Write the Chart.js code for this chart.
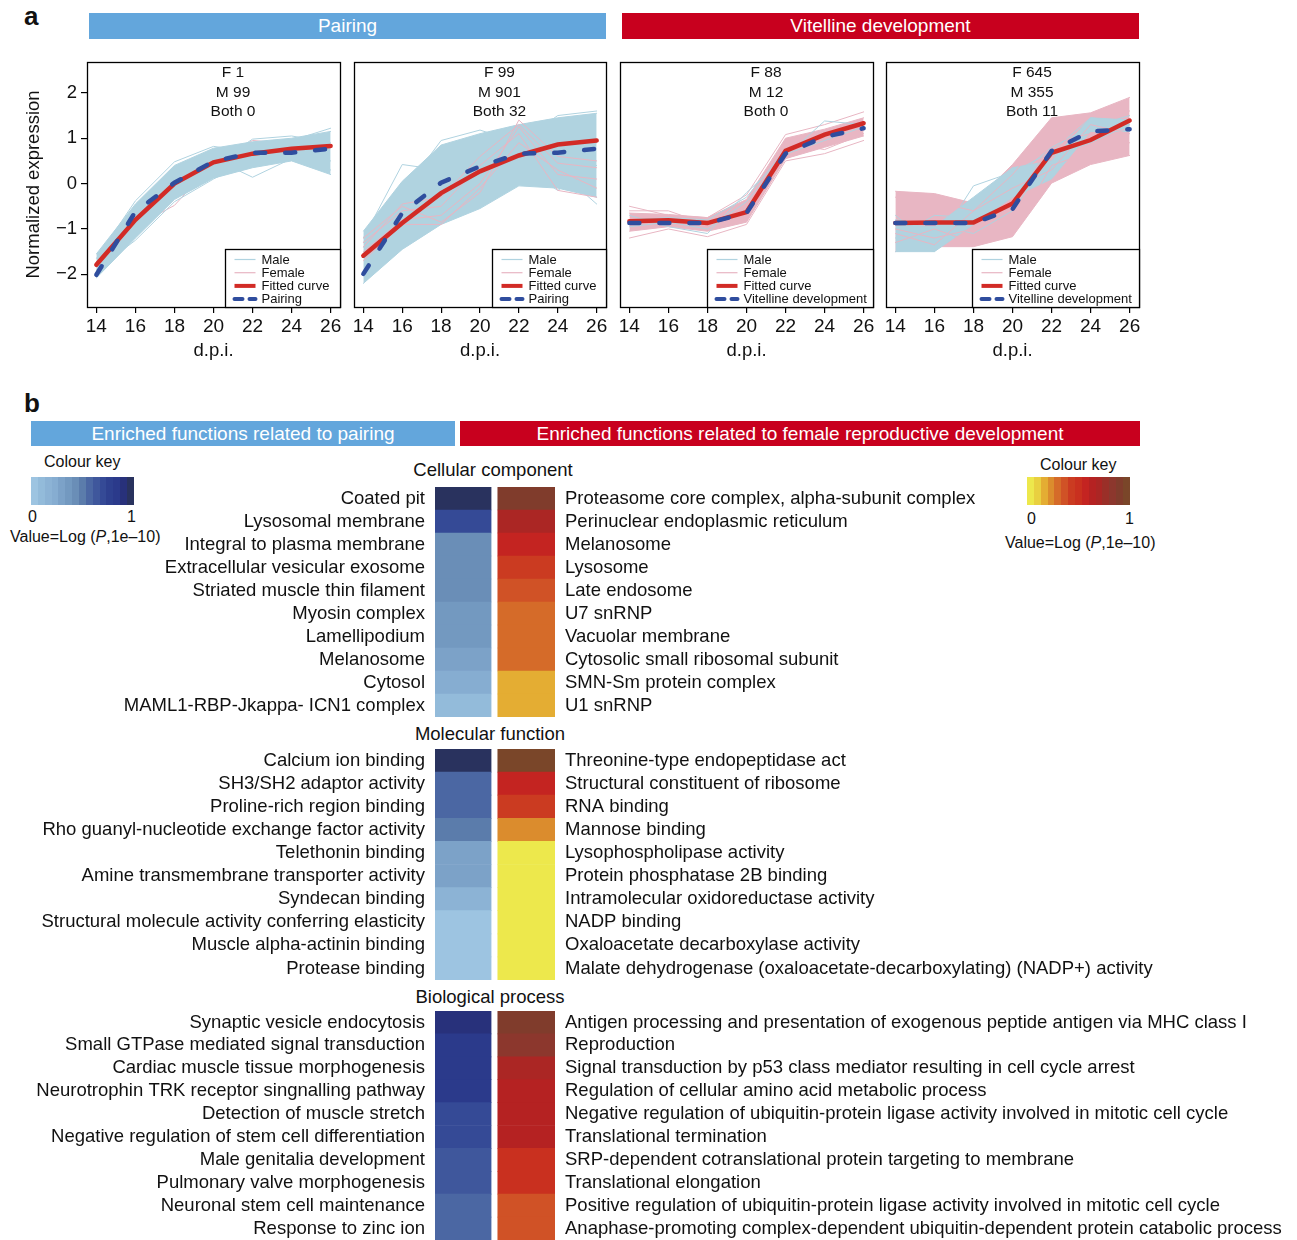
<!DOCTYPE html>
<html>
<head>
<meta charset="utf-8">
<script src="https://cdn.jsdelivr.net/npm/chart.js@4.4.0/dist/chart.umd.min.js"></script>
<style>
  body { margin: 0; background: #fff; font-family: "Liberation Sans", Arial, sans-serif; color: #111; }
  #page { position: relative; width: 1297px; height: 1240px; overflow: hidden; }
  #page canvas { position: absolute; }
  .t { position: absolute; white-space: nowrap; }
  .bar { position: absolute; color: #fff; text-align: center; font-size: 19px; line-height: 26px; height: 26px; }
  .key { position: absolute; display: flex; height: 28px; }
  .key div { flex: 1; }
</style>
</head>
<body>
<div id="page">
  <div class="t" style="left:24px;top:3px;font-size:26px;font-weight:bold;line-height:26px;">a</div>
  <div class="bar" style="left:89px;top:13px;width:517px;background:#63a6dc;">Pairing</div>
  <div class="bar" style="left:622px;top:13px;width:517px;background:#c8001e;">Vitelline development</div>

  <canvas id="p1" width="347" height="320" style="left:7px;top:50px;"></canvas>
  <canvas id="p2" width="346" height="320" style="left:274px;top:50px;"></canvas>
  <canvas id="p3" width="347" height="320" style="left:540px;top:50px;"></canvas>
  <canvas id="p4" width="347" height="320" style="left:806px;top:50px;"></canvas>

  <div class="t" style="left:24px;top:390px;font-size:26px;font-weight:bold;line-height:26px;">b</div>
  <div class="bar" style="left:31px;top:421px;width:424px;height:25px;line-height:25px;background:#63a6dc;">Enriched functions related to pairing</div>
  <div class="bar" style="left:460px;top:421px;width:680px;height:25px;line-height:25px;background:#c8001e;">Enriched functions related to female reproductive development</div>

  <div class="t" style="left:44px;top:454px;font-size:16px;line-height:16px;">Colour key</div>
  <div class="key" id="keyBlue" style="left:31px;top:477px;width:103px;"></div>
  <div class="t" style="left:28px;top:509px;font-size:16px;line-height:16px;">0</div>
  <div class="t" style="left:127px;top:509px;font-size:16px;line-height:16px;">1</div>
  <div class="t" style="left:10px;top:529px;font-size:16px;line-height:16px;">Value=Log (<i>P</i>,1e–10)</div>

  <div class="t" style="left:1040px;top:457px;font-size:16px;line-height:16px;">Colour key</div>
  <div class="key" id="keyRed" style="left:1027px;top:477px;width:103px;"></div>
  <div class="t" style="left:1027px;top:511px;font-size:16px;line-height:16px;">0</div>
  <div class="t" style="left:1125px;top:511px;font-size:16px;line-height:16px;">1</div>
  <div class="t" style="left:1005px;top:535px;font-size:16px;line-height:16px;">Value=Log (<i>P</i>,1e–10)</div>

  <div class="t" style="left:343px;width:300px;text-align:center;top:461px;font-size:18.5px;line-height:18px;">Cellular component</div>
  <div class="t" style="left:340px;width:300px;text-align:center;top:725px;font-size:18.5px;line-height:18px;">Molecular function</div>
  <div class="t" style="left:340px;width:300px;text-align:center;top:988px;font-size:18.5px;line-height:18px;">Biological process</div>

  <canvas id="hCC" width="1297" height="230" style="left:0;top:487px;"></canvas>
  <canvas id="hMF" width="1297" height="231" style="left:0;top:749px;"></canvas>
  <canvas id="hBP" width="1297" height="229" style="left:0;top:1011px;"></canvas>
</div>

<script>
// ---------- DATA: panel a (normalized expression vs d.p.i.) ----------
const dpi = [14, 16, 18, 20, 22, 24, 26];
const xTickVals = [14, 16, 18, 20, 22, 24, 26];
const yTickVals = [-2, -1, 0, 1, 2];

// Panel 1: pairing, F 1 / M 99 / Both 0
const p1Counts = ['F 1', 'M 99', 'Both 0'];
const p1MaleUpper = [-1.55, -0.45, 0.40, 0.78, 0.92, 1.00, 1.15];
const p1MaleLower = [-2.08, -1.20, -0.35, 0.12, 0.35, 0.50, 0.20];
const p1MaleLines = [
  [-1.65, -0.38, 0.48, 0.82, 0.70, 0.95, 1.22],
  [-1.90, -1.25, -0.40, 0.10, 0.55, 0.60, 0.30],
  [-1.80, -0.90, -0.10, 0.55, 0.14, 0.55, 0.50],
  [-2.05, -0.70, 0.10, 0.40, 0.98, 1.05, 0.90]
];
const p1FemaleLines = [[-1.72, -0.95, -0.48, 0.45, 0.95, 0.88, 0.80]];
const p1Fitted = [-1.79, -0.80, 0.00, 0.47, 0.66, 0.77, 0.83];
const p1Pattern = [-2.01, -0.62, 0.02, 0.49, 0.68, 0.68, 0.77];

// Panel 2: pairing, F 99 / M 901 / Both 32
const p2Counts = ['F 99', 'M 901', 'Both 32'];
const p2MaleUpper = [-1.05, 0.05, 0.85, 1.10, 1.30, 1.45, 1.55];
const p2MaleLower = [-2.20, -1.45, -0.90, -0.55, -0.05, -0.10, -0.30];
const p2MaleLines = [
  [-1.20, 0.42, 0.30, 0.90, 1.00, 0.80, 0.90],
  [-1.30, -0.20, 0.95, 1.18, 0.90, 1.50, 1.60],
  [-1.60, -0.80, -0.30, 0.10, 0.50, 0.30, -0.45],
  [-1.40, -0.60, -0.20, 0.30, 0.40, -0.15, 0.40]
];
const p2FemaleLines = [
  [-1.20, -0.50, -0.85, -0.20, 1.40, 0.60, 0.50],
  [-1.50, -0.80, -0.70, 0.00, 1.25, 0.20, 0.10],
  [-1.30, -0.60, -0.50, 0.40, 1.10, -0.15, -0.30],
  [-1.70, -0.90, -0.90, -0.10, 0.90, 0.30, -0.10],
  [-1.40, -0.45, -0.30, 0.60, 1.30, 0.45, 0.35]
];
const p2Fitted = [-1.59, -0.87, -0.21, 0.27, 0.62, 0.86, 0.95];
const p2Pattern = [-1.99, -0.65, 0.02, 0.38, 0.66, 0.68, 0.77];

// Panel 3: vitelline development, F 88 / M 12 / Both 0
const p3Counts = ['F 88', 'M 12', 'Both 0'];
const p3FemaleUpper = [-0.65, -0.68, -0.75, -0.35, 1.00, 1.20, 1.45];
const p3FemaleLower = [-1.05, -0.95, -1.05, -0.85, 0.55, 0.80, 1.05];
const p3FemaleLines = [
  [-0.50, -0.70, -0.75, -0.25, 1.08, 1.30, 1.58],
  [-1.20, -1.00, -1.17, -0.90, 0.50, 0.66, 0.95],
  [-0.60, -0.60, -0.90, -0.60, 0.90, 0.75, 1.10]
];
const p3MaleLines = [
  [-0.70, -0.95, -1.10, -0.20, 0.60, 1.38, 1.30],
  [-0.95, -0.85, -1.00, -0.40, 0.65, 0.95, 1.25],
  [-0.80, -0.75, -0.80, -0.30, 0.75, 1.10, 1.35]
];
const p3Fitted = [-0.83, -0.81, -0.87, -0.63, 0.72, 1.08, 1.33];
const p3Pattern = [-0.87, -0.87, -0.87, -0.65, 0.66, 1.03, 1.22];

// Panel 4: vitelline development, F 645 / M 355 / Both 11
const p4Counts = ['F 645', 'M 355', 'Both 11'];
const p4FemaleUpper = [-0.17, -0.22, -0.43, 0.42, 1.45, 1.56, 1.90];
const p4FemaleLower = [-1.50, -1.39, -1.39, -1.17, 0.01, 0.42, 0.62];
const p4MaleUpper = [-0.90, -0.95, -0.30, 0.35, 0.50, 1.45, 1.40];
const p4MaleLower = [-1.50, -1.50, -0.90, -0.30, 0.10, 1.15, 1.15];
const p4FemaleLines = [
  [-0.30, -0.40, -0.60, 0.20, 1.20, 1.50, 1.60],
  [-1.00, -1.20, -1.00, -0.50, 0.90, 1.10, 1.20],
  [-1.30, -1.00, -1.30, -1.10, 0.40, 0.70, 0.90],
  [-1.10, -1.35, -0.60, -0.10, 0.30, 1.30, 1.10]
];
const p4MaleLines = [
  [-0.70, -1.40, -0.05, 0.25, 0.70, 1.45, 1.35],
  [-1.30, -1.50, -0.40, -0.20, 0.35, 1.30, 1.20],
  [-0.80, -0.90, -1.10, -0.60, 0.60, 0.90, 1.30],
  [-1.20, -0.70, -0.75, 0.10, 0.80, 1.25, 1.50]
];
const p4Fitted = [-0.87, -0.86, -0.86, -0.44, 0.68, 0.96, 1.39];
const p4Pattern = [-0.87, -0.87, -0.87, -0.56, 0.72, 1.15, 1.20];

// ---------- DATA: panel b (enrichment heatmap) ----------
const bluePalette = ['#9dc4e1', '#93bbda', '#8cb3d5', '#86add1', '#7ca2c8', '#7399c0', '#6a8eb7', '#5b7cab',
                     '#4b67a3', '#3f579c', '#354a96', '#2e408f', '#2b3a8b', '#28317b', '#29325e'];
const redPalette = ['#ede84c', '#e9d040', '#e4ad33', '#db8c2d', '#d56b29', '#d05226', '#cb3b21', '#c9301f',
                    '#c42421', '#b52222', '#ab2624', '#9a2f28', '#8c372d', '#803c2c', '#7a4629'];

const ccPairLabels = ['Coated pit', 'Lysosomal membrane', 'Integral to plasma membrane', 'Extracellular vesicular exosome',
  'Striated muscle thin filament', 'Myosin complex', 'Lamellipodium', 'Melanosome', 'Cytosol', 'MAML1-RBP-Jkappa- ICN1 complex'];
const ccFemaleLabels = ['Proteasome core complex, alpha-subunit complex', 'Perinuclear endoplasmic reticulum', 'Melanosome',
  'Lysosome', 'Late endosome', 'U7 snRNP', 'Vacuolar membrane', 'Cytosolic small ribosomal subunit', 'SMN-Sm protein complex', 'U1 snRNP'];
const ccPairValues = [1.00, 0.71, 0.43, 0.43, 0.43, 0.36, 0.36, 0.29, 0.21, 0.07];
const ccFemaleValues = [0.93, 0.71, 0.57, 0.43, 0.36, 0.29, 0.29, 0.29, 0.14, 0.14];

const mfPairLabels = ['Calcium ion binding', 'SH3/SH2 adaptor activity', 'Proline-rich region binding',
  'Rho guanyl-nucleotide exchange factor activity', 'Telethonin binding', 'Amine transmembrane transporter activity',
  'Syndecan binding', 'Structural molecule activity conferring elasticity', 'Muscle alpha-actinin binding', 'Protease binding'];
const mfFemaleLabels = ['Threonine-type endopeptidase act', 'Structural constituent of ribosome', 'RNA binding', 'Mannose binding',
  'Lysophospholipase activity', 'Protein phosphatase 2B binding', 'Intramolecular oxidoreductase activity', 'NADP binding',
  'Oxaloacetate decarboxylase activity', 'Malate dehydrogenase (oxaloacetate-decarboxylating) (NADP+) activity'];
const mfPairValues = [1.00, 0.57, 0.57, 0.50, 0.29, 0.29, 0.14, 0.00, 0.00, 0.00];
const mfFemaleValues = [1.00, 0.57, 0.43, 0.21, 0.00, 0.00, 0.00, 0.00, 0.00, 0.00];

const bpPairLabels = ['Synaptic vesicle endocytosis', 'Small GTPase mediated signal transduction', 'Cardiac muscle tissue morphogenesis',
  'Neurotrophin TRK receptor singnalling pathway', 'Detection of muscle stretch', 'Negative regulation of stem cell differentiation',
  'Male genitalia development', 'Pulmonary valve morphogenesis', 'Neuronal stem cell maintenance', 'Response to zinc ion'];
const bpFemaleLabels = ['Antigen processing and presentation of exogenous peptide antigen via MHC class I', 'Reproduction',
  'Signal transduction by p53 class mediator resulting in cell cycle arrest', 'Regulation of cellular amino acid metabolic process',
  'Negative regulation of ubiquitin-protein ligase activity involved in mitotic cell cycle', 'Translational termination',
  'SRP-dependent cotranslational protein targeting to membrane', 'Translational elongation',
  'Positive regulation of ubiquitin-protein ligase activity involved in mitotic cell cycle',
  'Anaphase-promoting complex-dependent ubiquitin-dependent protein catabolic process'];
const bpPairValues = [0.93, 0.86, 0.86, 0.86, 0.71, 0.71, 0.64, 0.64, 0.57, 0.57];
const bpFemaleValues = [0.93, 0.86, 0.71, 0.64, 0.64, 0.64, 0.50, 0.50, 0.36, 0.36];

// ---------- STYLE ----------
const FONT = '"Liberation Sans", Arial, sans-serif';
const MALE = '#b0d3e0';
const FEMALE = '#e8b6c3';
const FIT = '#d22b26';
const PATT = '#2f4d9e';

// --- HELPERS ---
const pts = arr => dpi.map((x, i) => ({ x: x, y: arr[i] }));
const thin = (arr, color, order) => ({ data: pts(arr), borderColor: color, borderWidth: 1, pointRadius: 0, fill: false, order: order });
const pick = (pal, v) => pal[Math.round(v * (pal.length - 1))];
// drop the label-overflow padding Chart.js adds, so the plot box sits where we place it
const noPad = s => { s.paddingTop = 0; s.paddingBottom = 0; s.paddingLeft = 0; s.paddingRight = 0; };

function band(list, lower, upper, color, order) {
  const lo = list.length;
  list.push({ data: pts(lower), borderColor: color, borderWidth: 1, pointRadius: 0, fill: false, order: order });
  list.push({ data: pts(upper), borderColor: color, borderWidth: 1, pointRadius: 0, fill: lo, backgroundColor: color, order: order });
}

// frame, counts text and legend box drawn on each panel
const panelDeco = {
  id: 'panelDeco',
  afterDatasetsDraw(chart, args, opts) {
    const { ctx, chartArea: a, scales } = chart;
    ctx.save();
    ctx.strokeStyle = '#000';
    ctx.lineWidth = 1.3;
    ctx.strokeRect(Math.round(a.left) + 0.5, Math.round(a.top) + 0.5, Math.round(a.right - a.left), Math.round(a.bottom - a.top));

    // F / M / Both counts
    ctx.fillStyle = '#111';
    ctx.font = '15.5px ' + FONT;
    ctx.textAlign = 'center';
    ctx.textBaseline = 'middle';
    const cx = scales.x.getPixelForValue(21);
    [2.44, 2.01, 1.58].forEach((yv, i) => ctx.fillText(opts.counts[i], cx, scales.y.getPixelForValue(yv)));

    // legend
    const w = opts.legendWidth, h = 58;
    const lx = Math.round(a.right - w) + 0.5, ly = Math.round(a.bottom - h) + 0.5;
    ctx.fillStyle = '#fff';
    ctx.fillRect(lx, ly, w, h);
    ctx.strokeRect(lx, ly, w, h);
    const items = [
      { text: 'Male', color: MALE, width: 1.2, dash: [] },
      { text: 'Female', color: FEMALE, width: 1.2, dash: [] },
      { text: 'Fitted curve', color: FIT, width: 4, dash: [] },
      { text: opts.patternName, color: PATT, width: 4, dash: [8, 7] }
    ];
    ctx.font = '13px ' + FONT;
    ctx.textAlign = 'left';
    items.forEach((it, i) => {
      const y = ly + 10 + i * 13.2;
      ctx.beginPath();
      ctx.strokeStyle = it.color;
      ctx.lineWidth = it.width;
      ctx.lineCap = it.dash.length ? 'round' : 'butt';
      ctx.setLineDash(it.dash);
      ctx.moveTo(lx + 9, y);
      ctx.lineTo(lx + 30, y);
      ctx.stroke();
      ctx.setLineDash([]);
      ctx.fillStyle = '#111';
      ctx.fillText(it.text, lx + 36, y + 0.5);
    });
    ctx.restore();
  }
};

function makePanel(id, datasets, counts, patternName, legendWidth, showY) {
  new Chart(document.getElementById(id), {
    type: 'line',
    data: { datasets: datasets },
    plugins: [panelDeco],
    options: {
      responsive: false,
      animation: false,
      layout: { padding: { top: 12, right: 14, bottom: 0, left: 0 } },
      elements: { line: { tension: 0, borderCapStyle: 'round' } },
      plugins: {
        legend: { display: false },
        tooltip: { enabled: false },
        panelDeco: { counts: counts, patternName: patternName, legendWidth: legendWidth }
      },
      scales: {
        x: {
          type: 'linear', min: 13.52, max: 26.48,
          afterBuildTicks: s => { s.ticks = xTickVals.map(v => ({ value: v })); },
          afterFit: s => { s.height = 63; noPad(s); },
          grid: { drawOnChartArea: false, tickLength: 6, color: '#000', lineWidth: 1.2 },
          border: { display: false },
          ticks: { font: { family: FONT, size: 19 }, color: '#111', padding: 2, maxRotation: 0, autoSkip: false },
          title: { display: true, text: 'd.p.i.', font: { family: FONT, size: 18.5 }, color: '#111', padding: { top: 0, bottom: 8 } }
        },
        y: {
          type: 'linear', min: -2.72, max: 2.68,
          afterBuildTicks: s => { s.ticks = yTickVals.map(v => ({ value: v })); },
          afterFit: s => { s.width = 80; noPad(s); },
          grid: { display: showY, drawOnChartArea: false, tickLength: 6, color: '#000', lineWidth: 1.2 },
          border: { display: false },
          ticks: {
            display: showY, font: { family: FONT, size: 18.5 }, color: '#111', padding: 4,
            callback: v => (v < 0 ? '\u2212' + Math.abs(v) : String(v))
          },
          title: { display: showY, text: 'Normalized expression', font: { family: FONT, size: 18.5 }, color: '#111', padding: { top: 16, bottom: 0 } }
        }
      }
    }
  });
}

// --- PANEL 1 ---
const d1 = [];
p1FemaleLines.forEach(l => d1.push(thin(l, FEMALE, 40)));
band(d1, p1MaleLower, p1MaleUpper, MALE, 30);
p1MaleLines.forEach(l => d1.push(thin(l, MALE, 30)));
d1.push({ data: pts(p1Fitted), borderColor: FIT, borderWidth: 4.5, pointRadius: 0, fill: false, order: 2 });
d1.push({ data: pts(p1Pattern), borderColor: PATT, borderWidth: 4.5, borderDash: [10, 20], pointRadius: 0, fill: false, order: 1 });
makePanel('p1', d1, p1Counts, 'Pairing', 115, true);

// --- PANEL 2 ---
const d2 = [];
band(d2, p2MaleLower, p2MaleUpper, MALE, 30);
p2MaleLines.forEach(l => d2.push(thin(l, MALE, 30)));
p2FemaleLines.forEach(l => d2.push(thin(l, FEMALE, 20)));
d2.push({ data: pts(p2Fitted), borderColor: FIT, borderWidth: 4.5, pointRadius: 0, fill: false, order: 2 });
d2.push({ data: pts(p2Pattern), borderColor: PATT, borderWidth: 4.5, borderDash: [10, 20], pointRadius: 0, fill: false, order: 1 });
makePanel('p2', d2, p2Counts, 'Pairing', 114, false);

// --- PANEL 3 ---
const d3 = [];
band(d3, p3FemaleLower, p3FemaleUpper, FEMALE, 40);
p3FemaleLines.forEach(l => d3.push(thin(l, FEMALE, 40)));
p3MaleLines.forEach(l => d3.push(thin(l, MALE, 30)));
d3.push({ data: pts(p3Fitted), borderColor: FIT, borderWidth: 4.5, pointRadius: 0, fill: false, order: 2 });
d3.push({ data: pts(p3Pattern), borderColor: PATT, borderWidth: 4.5, borderDash: [10, 20], pointRadius: 0, fill: false, order: 1 });
makePanel('p3', d3, p3Counts, 'Vitelline development', 166, false);

// --- PANEL 4 ---
const d4 = [];
band(d4, p4FemaleLower, p4FemaleUpper, FEMALE, 40);
band(d4, p4MaleLower, p4MaleUpper, MALE, 30);
p4MaleLines.forEach(l => d4.push(thin(l, MALE, 30)));
p4FemaleLines.forEach(l => d4.push(thin(l, FEMALE, 20)));
d4.push({ data: pts(p4Fitted), borderColor: FIT, borderWidth: 4.5, pointRadius: 0, fill: false, order: 2 });
d4.push({ data: pts(p4Pattern), borderColor: PATT, borderWidth: 4.5, borderDash: [10, 20], pointRadius: 0, fill: false, order: 1 });
makePanel('p4', d4, p4Counts, 'Vitelline development', 167, false);

// --- HEATMAPS ---
function makeHeat(id, leftLabels, rightLabels, pairVals, femaleVals) {
  const tickFont = { family: FONT, size: 18.5 };
  new Chart(document.getElementById(id), {
    type: 'bar',
    data: {
      labels: leftLabels,
      datasets: [
        { data: pairVals.map(() => [0, 1]), backgroundColor: pairVals.map(v => pick(bluePalette, v)) },
        { data: femaleVals.map(() => [1.12, 2.14]), backgroundColor: femaleVals.map(v => pick(redPalette, v)) }
      ]
    },
    options: {
      indexAxis: 'y',
      responsive: false,
      animation: false,
      layout: { padding: 0 },
      datasets: { bar: { categoryPercentage: 1, barPercentage: 1, grouped: false, borderWidth: 0 } },
      plugins: { legend: { display: false }, tooltip: { enabled: false } },
      scales: {
        x: { type: 'linear', min: 0, max: 2.14, display: false },
        y: {
          type: 'category', position: 'left', offset: true,
          afterFit: s => { s.width = 435; noPad(s); },
          grid: { display: false, drawTicks: false }, border: { display: false },
          ticks: { font: tickFont, color: '#111', padding: 10, autoSkip: false }
        },
        y2: {
          type: 'category', position: 'right', offset: true, labels: rightLabels,
          afterFit: s => { s.width = 742; noPad(s); },
          grid: { display: false, drawTicks: false }, border: { display: false },
          ticks: { font: tickFont, color: '#111', padding: 10, autoSkip: false }
        }
      }
    }
  });
}

makeHeat('hCC', ccPairLabels, ccFemaleLabels, ccPairValues, ccFemaleValues);
makeHeat('hMF', mfPairLabels, mfFemaleLabels, mfPairValues, mfFemaleValues);
makeHeat('hBP', bpPairLabels, bpFemaleLabels, bpPairValues, bpFemaleValues);

// --- COLOUR KEYS ---
function fillKey(id, pal) {
  const el = document.getElementById(id);
  pal.forEach(c => { const d = document.createElement('div'); d.style.background = c; el.appendChild(d); });
}
fillKey('keyBlue', bluePalette);
fillKey('keyRed', redPalette);
</script>
</body>
</html>
